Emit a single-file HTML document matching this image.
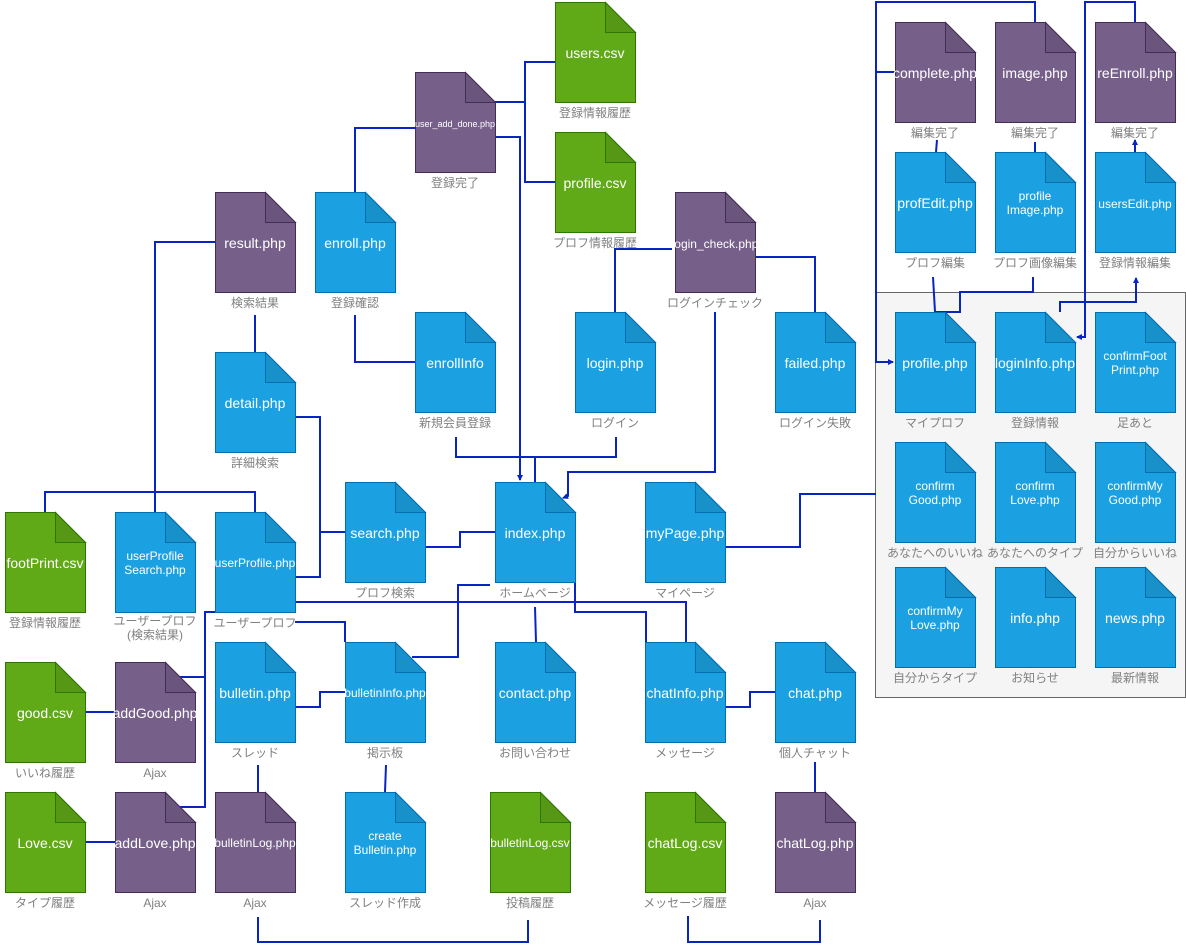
<!DOCTYPE html>
<html><head><meta charset="utf-8"><style>
html,body{margin:0;padding:0;background:#fff;}
svg{display:block;}
.lb{font-family:"Liberation Sans","Noto Sans CJK JP",sans-serif;font-size:12px;fill:#808080;text-anchor:middle;}
.nt{font-family:"Liberation Sans","Noto Sans CJK JP",sans-serif;font-size:14px;fill:#fff;text-anchor:middle;}
.ns{font-size:12px;}
.nx{font-size:9px;}
.c{fill:none;stroke:#0a24c4;stroke-width:2;}
</style></head><body>
<svg width="1186" height="944" viewBox="0 0 1186 944" xmlns="http://www.w3.org/2000/svg">
<defs>
<g id="dp"><path d="M0.5,0.5H50.5L80.5,30.5V100.5H0.5Z" fill="#76608a" stroke="#432d57"/><path d="M50.5,0.5V30.5H80.5Z" fill="#6a567c" stroke="#432d57"/></g>
<g id="du"><path d="M0.5,0.5H50.5L80.5,30.5V100.5H0.5Z" fill="#1ba1e2" stroke="#006eaf"/><path d="M50.5,0.5V30.5H80.5Z" fill="#1891cb" stroke="#006eaf"/></g>
<g id="dg"><path d="M0.5,0.5H50.5L80.5,30.5V100.5H0.5Z" fill="#60a917" stroke="#2d7600"/><path d="M50.5,0.5V30.5H80.5Z" fill="#569815" stroke="#2d7600"/></g>
<marker id="ar" markerWidth="6" markerHeight="6" refX="5" refY="3" orient="auto" markerUnits="userSpaceOnUse"><path d="M0,0L6,3L0,6Z" fill="#0a24c4"/></marker>
</defs>
<rect x="875.5" y="292.5" width="310" height="405" fill="#f5f5f5" stroke="#666"/>

<g class="c">
<polyline points="355,192 355,128 415,128"/>
<polyline points="495,102 525,102"/>
<polyline points="555,62 525,62 525,182 555,182"/>
<polyline points="495,137 520,137 520,480" marker-end="url(#ar)"/>
<polyline points="215,242 155,242 155,512"/>
<polyline points="45,512 45,492 255,492 255,512"/>
<polyline points="255,315 255,352"/>
<polyline points="355,315 355,362 415,362"/>
<polyline points="295,417 320,417 320,577 295,577"/>
<polyline points="320,532 345,532"/>
<polyline points="425,547 460,547 460,532 495,532"/>
<polyline points="456,437 456,457 616,457 616,437"/>
<polyline points="535,457 535,482"/>
<polyline points="672,249 615,249 615,312"/>
<polyline points="755,257 815,257 815,312"/>
<polyline points="715,312 715,472 568,472 568,496 563,498" marker-end="url(#ar)"/>
<polyline points="725,547 800,547 800,494 876,494"/>
<polyline points="490,585 458,585 458,657 412,657"/>
<polyline points="295,602 686,602 686,642"/>
<polyline points="575,582 575,612 646,612 646,642"/>
<polyline points="535,607 536,642"/>
<polyline points="295,622 345,622 345,642"/>
<polyline points="215,612 205,612 205,807 180,807"/>
<polyline points="205,677 180,677"/>
<polyline points="295,707 320,707 320,692 345,692"/>
<polyline points="85,712 115,712"/>
<polyline points="85,842 115,842"/>
<polyline points="258,765 258,792"/>
<polyline points="386,765 385,792"/>
<polyline points="258,917 258,942 528,942 528,920"/>
<polyline points="725,707 750,707 750,692 775,692"/>
<polyline points="815,762 815,792"/>
<polyline points="688,916 688,942 820,942 820,920"/>
<polyline points="1035,22 1035,2 876,2 876,362 893,362" marker-end="url(#ar)"/>
<polyline points="895,72 876,72"/>
<polyline points="1135,22 1135,2 1085,2 1085,337 1077,337" marker-end="url(#ar)"/>
<polyline points="1060,312 1060,302 1136,302 1136,278" marker-end="url(#ar)"/>
<polyline points="937,140 936,152"/>
<polyline points="1035,142 1035,152"/>
<polyline points="1135,152 1135,140" marker-end="url(#ar)"/>
<polyline points="933,277 935,312"/>
<polyline points="1033,277 1033,292 960,292 960,312 935,312"/>
</g>

<use href="#dg" x="555" y="2"/><use href="#dg" x="555" y="132"/><use href="#dg" x="5" y="512"/><use href="#dg" x="5" y="662"/><use href="#dg" x="5" y="792"/><use href="#dg" x="490" y="792"/><use href="#dg" x="645" y="792"/>
<use href="#dp" x="415" y="72"/><use href="#dp" x="895" y="22"/><use href="#dp" x="995" y="22"/><use href="#dp" x="1095" y="22"/><use href="#dp" x="215" y="192"/><use href="#dp" x="675" y="192"/><use href="#dp" x="115" y="662"/><use href="#dp" x="115" y="792"/><use href="#dp" x="215" y="792"/><use href="#dp" x="775" y="792"/>
<use href="#du" x="895" y="152"/><use href="#du" x="995" y="152"/><use href="#du" x="1095" y="152"/><use href="#du" x="315" y="192"/><use href="#du" x="415" y="312"/><use href="#du" x="575" y="312"/><use href="#du" x="775" y="312"/><use href="#du" x="895" y="312"/><use href="#du" x="995" y="312"/><use href="#du" x="1095" y="312"/><use href="#du" x="215" y="352"/><use href="#du" x="345" y="482"/><use href="#du" x="495" y="482"/><use href="#du" x="645" y="482"/><use href="#du" x="895" y="442"/><use href="#du" x="995" y="442"/><use href="#du" x="1095" y="442"/><use href="#du" x="115" y="512"/><use href="#du" x="215" y="512"/><use href="#du" x="895" y="567"/><use href="#du" x="995" y="567"/><use href="#du" x="1095" y="567"/><use href="#du" x="215" y="642"/><use href="#du" x="345" y="642"/><use href="#du" x="495" y="642"/><use href="#du" x="645" y="642"/><use href="#du" x="775" y="642"/><use href="#du" x="345" y="792"/>

<g class="nt">
<text x="595" y="58">users.csv</text>
<text x="595" y="188">profile.csv</text>
<text x="455" y="127" class="nt nx">user_add_done.php</text>
<text x="935" y="78">complete.php</text>
<text x="1035" y="78">image.php</text>
<text x="1135" y="78">reEnroll.php</text>
<text x="935" y="208">profEdit.php</text>
<text x="1035" y="200" class="nt ns">profile</text><text x="1035" y="214" class="nt ns">Image.php</text>
<text x="1135" y="208" class="nt ns">usersEdit.php</text>
<text x="255" y="248">result.php</text>
<text x="355" y="248">enroll.php</text>
<text x="715" y="248" class="nt ns">login_check.php</text>
<text x="455" y="368">enrollInfo</text>
<text x="615" y="368">login.php</text>
<text x="815" y="368">failed.php</text>
<text x="935" y="368">profile.php</text>
<text x="1035" y="368">loginInfo.php</text>
<text x="1135" y="360" class="nt ns">confirmFoot</text><text x="1135" y="374" class="nt ns">Print.php</text>
<text x="255" y="408">detail.php</text>
<text x="385" y="538">search.php</text>
<text x="535" y="538">index.php</text>
<text x="685" y="538">myPage.php</text>
<text x="935" y="490" class="nt ns">confirm</text><text x="935" y="504" class="nt ns">Good.php</text>
<text x="1035" y="490" class="nt ns">confirm</text><text x="1035" y="504" class="nt ns">Love.php</text>
<text x="1135" y="490" class="nt ns">confirmMy</text><text x="1135" y="504" class="nt ns">Good.php</text>
<text x="45" y="568">footPrint.csv</text>
<text x="155" y="560" class="nt ns">userProfile</text><text x="155" y="574" class="nt ns">Search.php</text>
<text x="255" y="567" class="nt ns">userProfile.php</text>
<text x="935" y="615" class="nt ns">confirmMy</text><text x="935" y="629" class="nt ns">Love.php</text>
<text x="1035" y="623">info.php</text>
<text x="1135" y="623">news.php</text>
<text x="45" y="718">good.csv</text>
<text x="155" y="718">addGood.php</text>
<text x="255" y="698">bulletin.php</text>
<text x="385" y="697" class="nt ns">bulletinInfo.php</text>
<text x="535" y="698">contact.php</text>
<text x="685" y="698">chatInfo.php</text>
<text x="815" y="698">chat.php</text>
<text x="45" y="848">Love.csv</text>
<text x="155" y="848">addLove.php</text>
<text x="255" y="847" class="nt ns">bulletinLog.php</text>
<text x="385" y="840" class="nt ns">create</text><text x="385" y="854" class="nt ns">Bulletin.php</text>
<text x="530" y="847" class="nt ns">bulletinLog.csv</text>
<text x="685" y="848">chatLog.csv</text>
<text x="815" y="848">chatLog.php</text>
</g>

<g class="lb">
<text x="595" y="117">登録情報履歴</text>
<text x="595" y="247">プロフ情報履歴</text>
<text x="455" y="187">登録完了</text>
<text x="935" y="137">編集完了</text>
<text x="1035" y="137">編集完了</text>
<text x="1135" y="137">編集完了</text>
<text x="935" y="267">プロフ編集</text>
<text x="1035" y="267">プロフ画像編集</text>
<text x="1135" y="267">登録情報編集</text>
<text x="255" y="307">検索結果</text>
<text x="355" y="307">登録確認</text>
<text x="715" y="307">ログインチェック</text>
<text x="455" y="427">新規会員登録</text>
<text x="615" y="427">ログイン</text>
<text x="815" y="427">ログイン失敗</text>
<text x="935" y="427">マイプロフ</text>
<text x="1035" y="427">登録情報</text>
<text x="1135" y="427">足あと</text>
<text x="255" y="467">詳細検索</text>
<text x="385" y="597">プロフ検索</text>
<text x="535" y="597">ホームページ</text>
<text x="685" y="597">マイページ</text>
<text x="935" y="557">あなたへのいいね</text>
<text x="1035" y="557">あなたへのタイプ</text>
<text x="1135" y="557">自分からいいね</text>
<text x="45" y="627">登録情報履歴</text>
<text x="155" y="625">ユーザープロフ</text><text x="155" y="639">(検索結果)</text>
<text x="255" y="627">ユーザープロフ</text>
<text x="935" y="682">自分からタイプ</text>
<text x="1035" y="682">お知らせ</text>
<text x="1135" y="682">最新情報</text>
<text x="45" y="777">いいね履歴</text>
<text x="155" y="777">Ajax</text>
<text x="255" y="757">スレッド</text>
<text x="385" y="757">掲示板</text>
<text x="535" y="757">お問い合わせ</text>
<text x="685" y="757">メッセージ</text>
<text x="815" y="757">個人チャット</text>
<text x="45" y="907">タイプ履歴</text>
<text x="155" y="907">Ajax</text>
<text x="255" y="907">Ajax</text>
<text x="385" y="907">スレッド作成</text>
<text x="530" y="907">投稿履歴</text>
<text x="685" y="907">メッセージ履歴</text>
<text x="815" y="907">Ajax</text>
</g>
</svg>
</body></html>
